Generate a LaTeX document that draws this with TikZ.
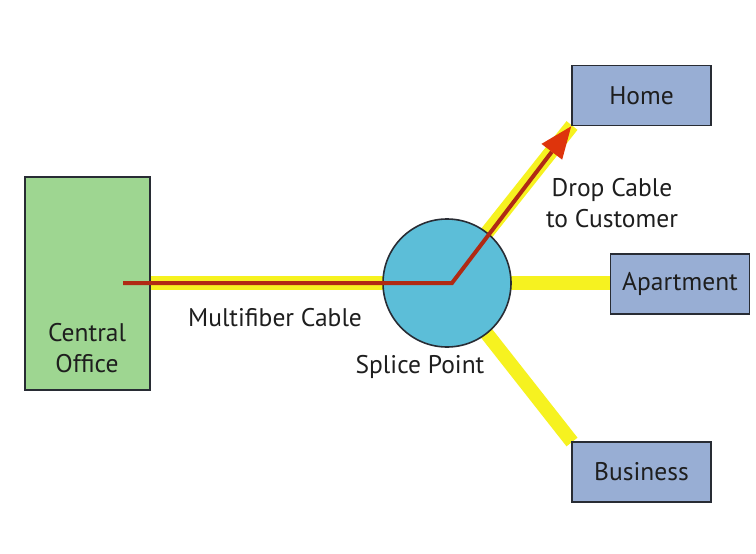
\documentclass[tikz,border=0pt]{standalone}
\usepackage{fontspec}
\setmainfont{PT Sans}
\usetikzlibrary{calc}
\definecolor{officegreen}{RGB}{158,214,145}
\definecolor{siteblue}{RGB}{152,174,212}
\definecolor{splicecyan}{RGB}{92,190,216}
\definecolor{cableyellow}{RGB}{246,242,32}
\definecolor{fiberred}{RGB}{176,42,20}
\definecolor{tipred}{RGB}{222,52,12}
\definecolor{edgegray}{RGB}{40,44,52}
\definecolor{textgray}{RGB}{30,30,30}
\tikzset{
  site/.style={draw=edgegray, line width=1.6pt, fill=siteblue, minimum width=139pt, minimum height=60pt, inner sep=0pt, font=\fontsize{25.5}{28}\selectfont, text=textgray},
  office/.style={draw=edgegray, line width=1.6pt, fill=officegreen, minimum width=125pt, minimum height=213pt, inner sep=0pt},
  splice/.style={circle, draw=edgegray, line width=1.6pt, fill=splicecyan, minimum size=128pt, inner sep=0pt},
  cable/.style={draw=cableyellow, line width=14pt},
  fiber/.style={draw=fiberred, line width=4pt},
  caption/.style={font=\fontsize{25.5}{31}\selectfont, text=textgray, align=center, inner sep=0pt}
}
\begin{document}
\begin{tikzpicture}[x=1pt, y=-1pt]
  \useasboundingbox (0,0) rectangle (756,554);
  \fill[white] (0,0) rectangle (756,554);

  % node positions
  \coordinate (sp) at (447,283);
  \coordinate (co) at (87.5,283.5);
  \coordinate (hm) at (641.5,95.5);
  \coordinate (ap) at (680,284);
  \coordinate (bz) at (641.5,472);

  % yellow cables, laid first so the boxes and splice sit over them
  \draw[cable] (150,283) -- (sp);
  \draw[cable] (sp) -- (572,125.5);
  \draw[cable] (sp) -- (611,283);
  \draw[cable] (sp) -- (572,442);

  \node[office] (office) at (co) {};
  \node[site] (home) at (hm) {Home};
  \node[site] (apt) at (ap) {Apartment};
  \node[site] (biz) at (bz) {Business};
  \node[splice] (splice) at (sp) {};

  % fiber path through the splice point to the customer
  \coordinate (fstart) at (123,283);
  \coordinate (fbend) at (452,283);
  \coordinate (tip) at (home.south west);
  \coordinate (base) at ($(tip)!32pt!(fbend)$);
  \draw[fiber] (fstart) -- (fbend) -- (base);
  \fill[tipred] (tip) -- ($(base)!13pt!90:(tip)$) -- ($(base)!13pt!-90:(tip)$) -- cycle;

  % labels
  \node[caption] (co-lbl) at (87,348) {Central\\Office};
  \node[caption] (mf-lbl) at (275,318) {Multifiber Cable};
  \node[caption] (sp-lbl) at (420,367) {Splice Point};
  \node[caption] (dc-lbl) at (612,203) {Drop Cable\\to Customer};
\end{tikzpicture}
\end{document}
